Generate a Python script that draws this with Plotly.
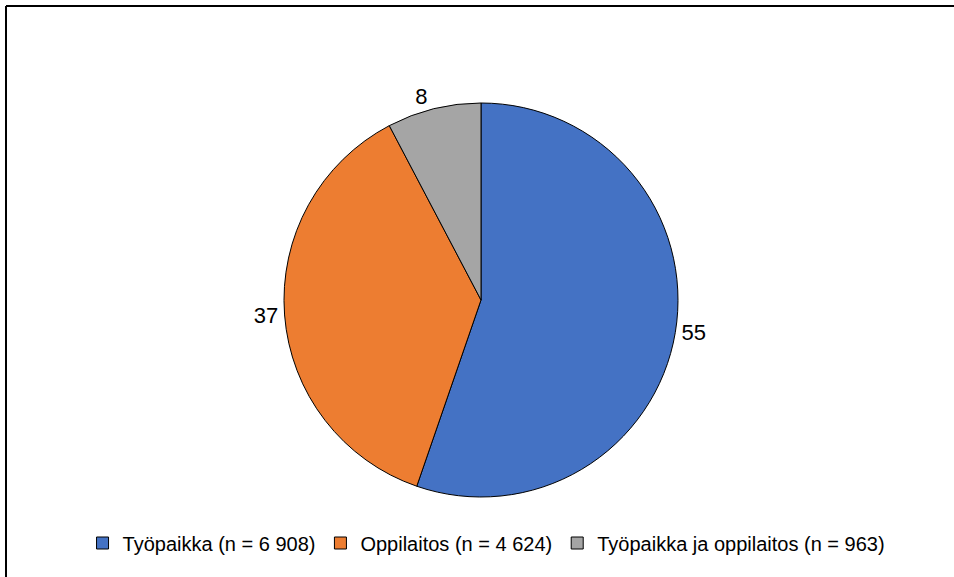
import plotly.graph_objects as go

labels = ['Työpaikka (n = 6 908)', 'Oppilaitos (n = 4 624)', 'Työpaikka ja oppilaitos (n = 963)']
counts = [6908, 4624, 963]
percents = [55, 37, 8]
colors = ['#4472C4', '#ED7D31', '#A5A5A5']

W, H = 954, 577

fig = go.Figure(data=[go.Pie(labels=labels, values=counts, text=[str(p) for p in percents],
                             textinfo='text', textposition='outside',
                             textfont=dict(size=22, color='black'),
                             sort=False, direction='clockwise', rotation=0,
                             marker=dict(colors=colors, line=dict(color='black', width=1)),
                             domain=dict(x=[284 / W, 678 / W], y=[1 - 497 / H, 1 - 103 / H]))])

fig.update_layout(width=W, height=H, margin=dict(l=0, r=0, t=0, b=0),
                  paper_bgcolor='white', plot_bgcolor='white',
                  font=dict(family='Liberation Sans, Arial', color='black'),
                  legend=dict(orientation='h', x=0.51, xanchor='center', y=1 - 543 / H, yanchor='middle',
                              font=dict(size=20)),
                  shapes=[dict(type='line', xref='paper', yref='paper', x0=6 / W, x1=1, y0=1 - 6 / H, y1=1 - 6 / H,
                               line=dict(color='black', width=2)),
                          dict(type='line', xref='paper', yref='paper', x0=6 / W, x1=6 / W, y0=0, y1=1 - 6 / H,
                               line=dict(color='black', width=2))])

fig.write_html('out.html', config={'displayModeBar': False},
               post_script="document.body.style.margin='0';")
